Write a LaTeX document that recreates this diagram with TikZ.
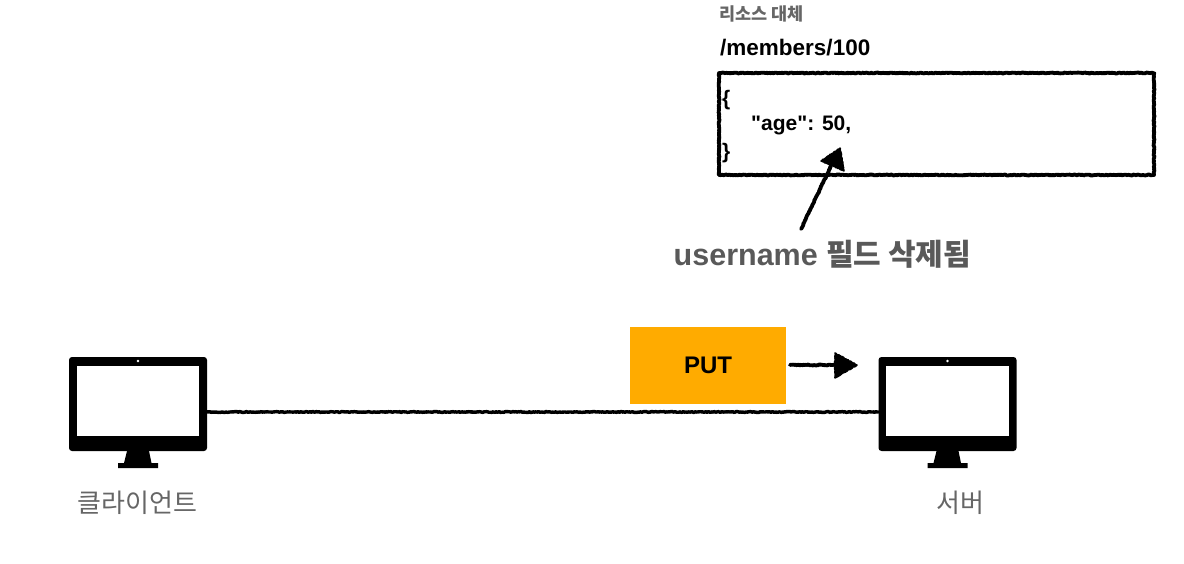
\documentclass[tikz,border=0pt]{standalone}
\usepackage{fontspec}
\usetikzlibrary{decorations.pathmorphing}
\newfontfamily\lib{Liberation Sans}
\newfontfamily\kr{Noto Sans CJK KR}
\definecolor{labelgray}{HTML}{666666}
\definecolor{notegray}{HTML}{595959}
\definecolor{putorange}{HTML}{FFAB00}
\tikzset{
  x=1pt,y=-1pt,
  rough/.style={black,line cap=round,line join=round,decorate,decoration={random steps,segment length=1.1pt,amplitude=0.45pt}},
  monitor/.style={fill=black,rounded corners=3pt,minimum width=138pt,minimum height=94pt,inner sep=0pt,outer sep=0pt,draw=none},
  monlabel/.style={font=\kr\fontsize{26}{26}\selectfont,text=labelgray,inner sep=0pt},
  code/.style={font=\lib\fontsize{21}{25}\selectfont\bfseries,inner sep=0pt,anchor=west}
}
\newcommand{\monitorparts}[1]{%
  \fill[white] ([shift={(7.5pt,-8.5pt)}]#1.north west) rectangle ([shift={(-8pt,-78.5pt)}]#1.north east);
  \fill[white] ([yshift=-4pt]#1.north) circle (1.4pt);
  \fill[black] ([shift={(-11pt,0pt)}]#1.south) -- ([shift={(11pt,0pt)}]#1.south) -- ([shift={(13.5pt,-12pt)}]#1.south) -- ([shift={(20pt,-12pt)}]#1.south) -- ([shift={(20pt,-17pt)}]#1.south) -- ([shift={(-20pt,-17pt)}]#1.south) -- ([shift={(-20pt,-12pt)}]#1.south) -- ([shift={(-14pt,-12pt)}]#1.south) -- cycle;
}
\begin{document}
\begin{tikzpicture}
\useasboundingbox (0,0) rectangle (1184,564);
% monitors
\node[monitor] (client) at (138,404) {};
\node[monitor] (server) at (947.5,404) {};
\monitorparts{client}
\monitorparts{server}
\node[monlabel] (clientlabel) at (137.5,503) {클라이언트};
\node[monlabel] (serverlabel) at (960,503) {서버};
% link
\draw[rough,line width=3.4pt] (client.east) ++(0,8) coordinate (linka) (linka) -- (linka -| server.west);
% PUT
\node[fill=putorange,minimum width=156pt,minimum height=77pt,inner sep=0pt,font=\lib\fontsize{24}{24}\selectfont\bfseries] (put) at (708,365.5) {PUT};
\coordinate (puta) at (790,365);
\coordinate (putb) at (838,365);
\coordinate (putt) at (857,365);
\coordinate (putc) at (835,353);
\coordinate (putd) at (835,378);
\draw[rough,line width=3.8pt] (puta) -- (putb);
\filldraw[rough,line width=1.5pt] (putt) -- (putc) -- (putd) -- cycle;
% resource box
\node[font=\kr\fontsize{17.5}{17.5}\selectfont\bfseries,text=labelgray,anchor=west,inner sep=0pt] (title) at (719,14) {리소스 대체};
\node[font=\lib\fontsize{22.5}{22.5}\selectfont\bfseries,anchor=west,inner sep=0pt] (path) at (720,47.5) {/members/100};
\node[rough,draw,line width=3.8pt,minimum width=435pt,minimum height=102pt,inner sep=0pt] (box) at (936.5,124) {};
\node[code] (l1) at (722,100) {\{};
\node[code] (l2) at (751,125) {"age": 50,};
\node[code] (l3) at (722,153) {\}};
% note
\node[font=\lib\fontsize{30.5}{30.5}\selectfont\bfseries,text=notegray,anchor=west,inner sep=0pt] (note) at (673.5,254.5) {username {\kr\fontsize{30}{30}\selectfont 필드 삭제됨}};
\coordinate (nota) at (801,229);
\coordinate (notb) at (831,166);
\coordinate (nott) at (840,148);
\coordinate (notc) at (821,161);
\coordinate (notd) at (844,171);
\draw[rough,line width=3.8pt] (nota) -- (notb);
\filldraw[rough,line width=1.5pt] (nott) -- (notc) -- (notd) -- cycle;
\end{tikzpicture}
\end{document}
